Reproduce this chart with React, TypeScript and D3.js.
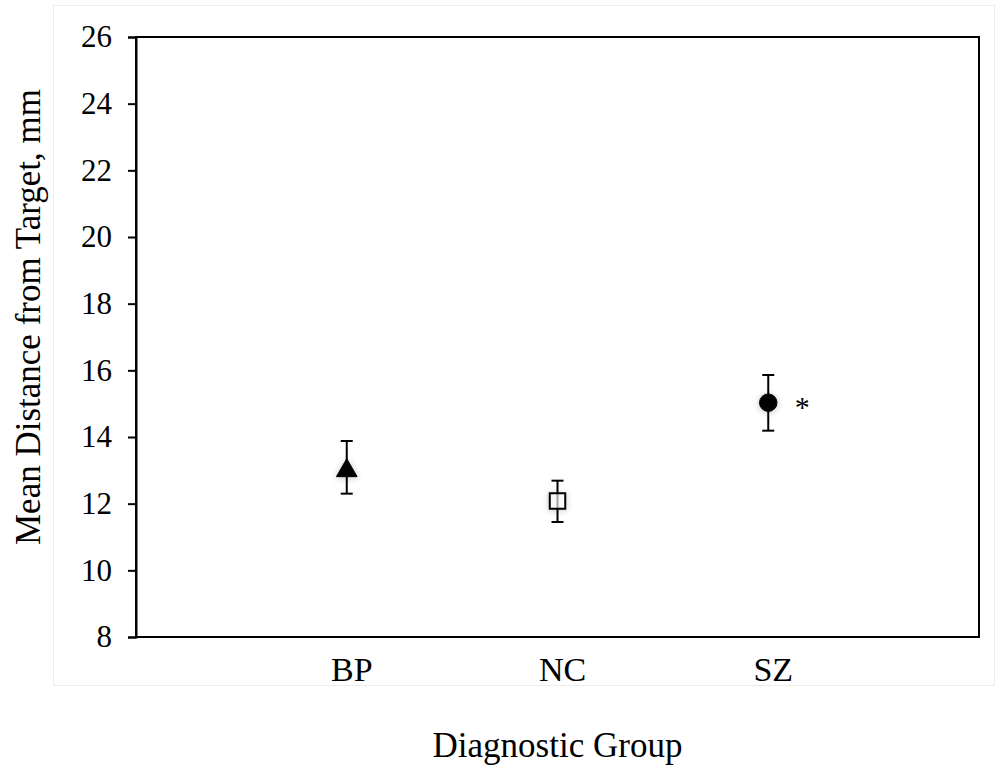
import React, { useEffect, useRef } from 'react';
import * as d3 from 'd3';

// values
const groups = ['BP', 'NC', 'SZ'];
const means = [13.05, 12.08, 15.03];
const upper = [13.88, 12.69, 15.86];
const lower = [12.3, 11.45, 14.19];
const markers = ['triangle', 'square', 'circle'];
const flagged = [false, false, true]; // asterisk
const yTicks = [8, 10, 12, 14, 16, 18, 20, 22, 24, 26];

const W = 997;
const H = 767;
const margin = { top: 37, right: 18, bottom: 130, left: 136 };
const font = '"Liberation Serif", "Times New Roman", serif';

const App = () => {
    const ref = useRef<SVGSVGElement>(null);

    useEffect(() => {
        const svg = d3.select(ref.current);
        svg.selectAll('*').remove();

        const innerW = W - margin.left - margin.right;
        const innerH = H - margin.top - margin.bottom;

        const x = d3.scalePoint<string>().domain(groups).range([margin.left, margin.left + innerW]).padding(1);
        const y = d3.scaleLinear().domain([8, 26]).range([margin.top + innerH, margin.top]);

        // soft shadow under markers
        const defs = svg.append('defs');
        const f = defs.append('filter').attr('id', 'shadow').attr('x', '-100%').attr('y', '-100%').attr('width', '300%').attr('height', '300%');
        f.append('feDropShadow').attr('dx', 0).attr('dy', 1).attr('stdDeviation', 3).attr('flood-color', '#000').attr('flood-opacity', 0.25);

        // faint outer frame
        svg.append('rect')
            .attr('x', 53.5).attr('y', 5.5).attr('width', 941).attr('height', 680)
            .attr('fill', 'none').attr('stroke', '#ececec').attr('stroke-width', 1);

        // plot box
        svg.append('rect')
            .attr('x', margin.left).attr('y', margin.top).attr('width', innerW).attr('height', innerH)
            .attr('fill', 'none').attr('stroke', '#000').attr('stroke-width', 2);

        // y axis
        const yAxis = svg.append('g')
            .attr('transform', `translate(${margin.left},0)`)
            .call(d3.axisLeft(y).tickValues(yTicks).tickSizeOuter(0).tickSize(8).tickPadding(16));
        yAxis.select('.domain').attr('stroke', '#000').attr('stroke-width', 2);
        yAxis.selectAll('.tick line').attr('stroke', '#000').attr('stroke-width', 2);
        yAxis.selectAll('.tick text').attr('font-family', font).attr('font-size', 31).attr('fill', '#000');

        // category labels
        svg.append('g').selectAll('text').data(groups).join('text')
            .attr('x', d => x(d)! + 5)
            .attr('y', 681)
            .attr('text-anchor', 'middle')
            .attr('font-family', font).attr('font-size', 34)
            .text(d => d);

        // error bars
        const bars = svg.append('g').attr('stroke', '#000').attr('stroke-width', 2);
        groups.forEach((g, i) => {
            const cx = x(g)!;
            bars.append('line').attr('x1', cx).attr('x2', cx).attr('y1', y(upper[i])).attr('y2', y(lower[i]));
            bars.append('line').attr('x1', cx - 6).attr('x2', cx + 6).attr('y1', y(upper[i])).attr('y2', y(upper[i]));
            bars.append('line').attr('x1', cx - 6).attr('x2', cx + 6).attr('y1', y(lower[i])).attr('y2', y(lower[i]));
        });

        // markers
        const sym = { triangle: d3.symbolTriangle, square: d3.symbolSquare, circle: d3.symbolCircle };
        const sizes = { triangle: 185, square: 240, circle: 240 };
        groups.forEach((g, i) => {
            const m = markers[i];
            svg.append('path')
                .attr('transform', `translate(${x(g)},${y(means[i]) + (m === 'triangle' ? 2 : 0)})`)
                .attr('d', d3.symbol().type(sym[m]).size(sizes[m])())
                .attr('fill', m === 'square' ? '#fff' : '#000')
                .attr('fill-opacity', m === 'square' ? 0.6 : 1)
                .attr('stroke', '#000')
                .attr('stroke-width', m === 'square' ? 2 : 1)
                .attr('filter', 'url(#shadow)');
            if (flagged[i]) {
                svg.append('text')
                    .attr('x', x(g)! + 34).attr('y', y(means[i]) + 14)
                    .attr('text-anchor', 'middle')
                    .attr('font-family', font).attr('font-size', 30)
                    .text('*');
            }
        });

        // axis titles
        svg.append('text')
            .attr('x', x('NC')!).attr('y', 757)
            .attr('text-anchor', 'middle')
            .attr('font-family', font).attr('font-size', 35)
            .text('Diagnostic Group');

        svg.append('text')
            .attr('transform', `translate(40,${(margin.top + margin.top + innerH) / 2 - 20}) rotate(-90)`)
            .attr('text-anchor', 'middle')
            .attr('font-family', font).attr('font-size', 35)
            .text('Mean Distance from Target, mm');
    }, []);

    return (
        <svg ref={ref} width={W} height={H}
            style={{ position: 'absolute', left: 0, top: 0, background: '#fff', display: 'block' }} />
    );
};

export default App;
